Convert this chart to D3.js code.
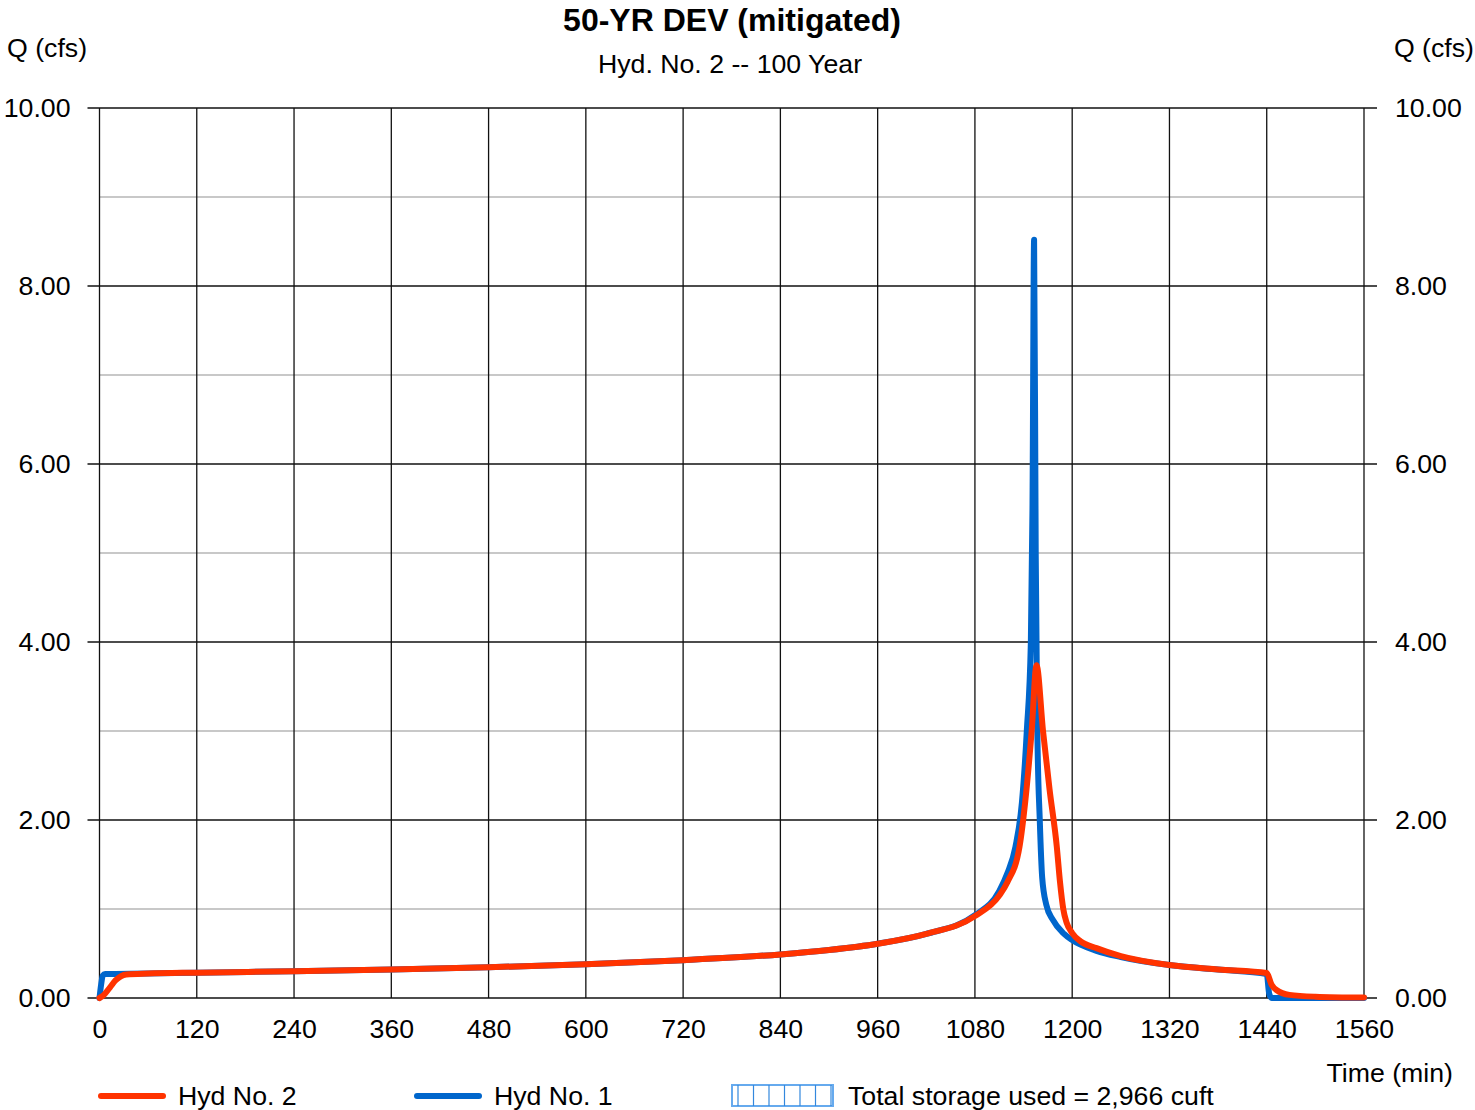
<!DOCTYPE html>
<html>
<head>
<meta charset="utf-8">
<script src="https://cdn.jsdelivr.net/npm/d3@7"></script>
<style>
  body { margin: 0; background: #fff; }
  svg { font-family: Arial, "Liberation Sans", sans-serif; }
</style>
</head>
<body>
<div id="chart"></div>
<script>
// Hyd No. 1 (inflow) - time (min), flow (cfs)
const hyd1Time = [0, 2, 4, 7, 60, 120, 240, 360, 480, 600, 720, 840, 900, 960, 1020, 1080, 1110, 1120, 1130, 1138, 1144, 1149, 1151, 1153, 1155, 1157, 1160, 1163, 1168, 1176, 1190, 1200, 1230, 1260, 1320, 1380, 1440, 1443, 1446, 1500, 1560];
const hyd1Flow = [0, 0.15, 0.25, 0.27, 0.275, 0.285, 0.30, 0.32, 0.345, 0.38, 0.425, 0.49, 0.54, 0.61, 0.72, 0.93, 1.2, 1.4, 1.7, 2.2, 3.0, 4.0, 5.5, 8.52, 5.0, 3.0, 2.0, 1.35, 1.05, 0.88, 0.72, 0.65, 0.53, 0.46, 0.37, 0.32, 0.27, 0.05, 0, 0, 0];

// Hyd No. 2 (outflow) - time (min), flow (cfs)
const hyd2Time = [0, 5, 13, 20, 33, 60, 120, 240, 360, 480, 600, 720, 840, 900, 960, 1020, 1080, 1110, 1120, 1135, 1142, 1150, 1156, 1164, 1172, 1181, 1185, 1189, 1193, 1200, 1210, 1230, 1260, 1320, 1380, 1440, 1446, 1452, 1468, 1500, 1560];
const hyd2Flow = [0, 0.03, 0.12, 0.2, 0.265, 0.275, 0.285, 0.30, 0.32, 0.345, 0.38, 0.425, 0.49, 0.54, 0.61, 0.72, 0.92, 1.15, 1.3, 1.7, 2.2, 3.0, 3.74, 3.0, 2.35, 1.7, 1.3, 1.0, 0.85, 0.73, 0.64, 0.56, 0.47, 0.37, 0.32, 0.28, 0.15, 0.09, 0.035, 0.015, 0.005];

const xTicks = [0, 120, 240, 360, 480, 600, 720, 840, 960, 1080, 1200, 1320, 1440, 1560];
const yMajor = [0, 2, 4, 6, 8, 10];
const yMinor = [1, 3, 5, 7, 9];

const title = "50-YR DEV (mitigated)";
const subtitle = "Hyd. No. 2 -- 100 Year";
const storageText = "Total storage used = 2,966 cuft";

const W = 1475, H = 1110;
const margin = { top: 108, right: 111, bottom: 112, left: 99.5 };
const width = W - margin.left - margin.right;
const height = H - margin.top - margin.bottom;
const fs = 26.7;
const font = "Arial, 'Liberation Sans', sans-serif";

const svg = d3.select("#chart").append("svg")
  .attr("width", W).attr("height", H);

const g = svg.append("g")
  .attr("transform", `translate(${margin.left},${margin.top})`);

const x = d3.scaleLinear().domain([0, 1560]).range([0, width]);
const y = d3.scaleLinear().domain([0, 10]).range([height, 0]);

// minor gridlines
g.selectAll(".minor").data(yMinor).enter().append("line")
  .attr("x1", 0).attr("x2", width)
  .attr("y1", d => y(d)).attr("y2", d => y(d))
  .attr("stroke", "#c8c8c8").attr("stroke-width", 2);

// vertical gridlines
g.selectAll(".vgrid").data(xTicks).enter().append("line")
  .attr("x1", d => x(d)).attr("x2", d => x(d))
  .attr("y1", 0).attr("y2", height)
  .attr("stroke", "#111").attr("stroke-width", 1.3);

// major horizontal gridlines + ticks both sides
g.selectAll(".major").data(yMajor).enter().append("line")
  .attr("x1", -12).attr("x2", width + 13)
  .attr("y1", d => y(d)).attr("y2", d => y(d))
  .attr("stroke", "#111").attr("stroke-width", 1.3);

// left axis labels
g.append("g")
  .attr("transform", "translate(-26,0)")
  .call(d3.axisLeft(y).tickValues(yMajor).tickFormat(d3.format(".2f")).tickSize(0))
  .call(a => a.select(".domain").remove())
  .selectAll("text")
  .attr("font-size", fs).attr("fill", "#000").attr("font-family", font);

// right axis labels
g.append("g")
  .attr("transform", `translate(${width + 28},0)`)
  .call(d3.axisRight(y).tickValues(yMajor).tickFormat(d3.format(".2f")).tickSize(0))
  .call(a => a.select(".domain").remove())
  .selectAll("text")
  .attr("font-size", fs).attr("fill", "#000").attr("font-family", font);

// bottom axis labels
g.append("g")
  .attr("transform", `translate(0,${height + 18})`)
  .call(d3.axisBottom(x).tickValues(xTicks).tickFormat(d3.format("d")).tickSize(0))
  .call(a => a.select(".domain").remove())
  .selectAll("text")
  .attr("font-size", fs).attr("fill", "#000").attr("font-family", font);

const line = d3.line()
  .x(d => x(d[0]))
  .y(d => y(d[1]))
  .curve(d3.curveMonotoneX);

const hyd1 = hyd1Time.map((t, i) => [t, hyd1Flow[i]]);
const hyd2 = hyd2Time.map((t, i) => [t, hyd2Flow[i]]);

g.append("path").datum(hyd1)
  .attr("d", line).attr("fill", "none")
  .attr("stroke", "#0066cc").attr("stroke-width", 6)
  .attr("stroke-linejoin", "round").attr("stroke-linecap", "round");

g.append("path").datum(hyd2)
  .attr("d", line).attr("fill", "none")
  .attr("stroke", "#ff3300").attr("stroke-width", 6)
  .attr("stroke-linejoin", "round").attr("stroke-linecap", "round");

// titles
svg.append("text").attr("x", 732).attr("y", 31)
  .attr("text-anchor", "middle").attr("font-size", 32).attr("font-weight", "bold")
  .text(title);
svg.append("text").attr("x", 730).attr("y", 73)
  .attr("text-anchor", "middle").attr("font-size", fs)
  .text(subtitle);
svg.append("text").attr("x", 7).attr("y", 57)
  .attr("font-size", fs).text("Q (cfs)");
svg.append("text").attr("x", 1474).attr("y", 57)
  .attr("text-anchor", "end").attr("font-size", fs).text("Q (cfs)");
svg.append("text").attr("x", 1453).attr("y", 1082)
  .attr("text-anchor", "end").attr("font-size", fs).text("Time (min)");

// legend
const legend = svg.append("g");
legend.append("line").attr("x1", 101).attr("x2", 163).attr("y1", 1096).attr("y2", 1096)
  .attr("stroke", "#ff3300").attr("stroke-width", 6).attr("stroke-linecap", "round");
legend.append("text").attr("x", 178).attr("y", 1105).attr("font-size", fs).text("Hyd No. 2");
legend.append("line").attr("x1", 417).attr("x2", 479).attr("y1", 1096).attr("y2", 1096)
  .attr("stroke", "#0066cc").attr("stroke-width", 6).attr("stroke-linecap", "round");
legend.append("text").attr("x", 494).attr("y", 1105).attr("font-size", fs).text("Hyd No. 1");

const sw = legend.append("g");
sw.append("rect").attr("x", 732).attr("y", 1085).attr("width", 101).attr("height", 21)
  .attr("fill", "none").attr("stroke", "#66aaee").attr("stroke-width", 2);
sw.selectAll(".sl").data(d3.range(7)).enter().append("line")
  .attr("x1", i => 738 + i * 15.5).attr("x2", i => 738 + i * 15.5)
  .attr("y1", 1085).attr("y2", 1106)
  .attr("stroke", "#3388dd").attr("stroke-width", 1.2);
legend.append("text").attr("x", 848).attr("y", 1105).attr("font-size", fs).text(storageText);
</script>
</body>
</html>
